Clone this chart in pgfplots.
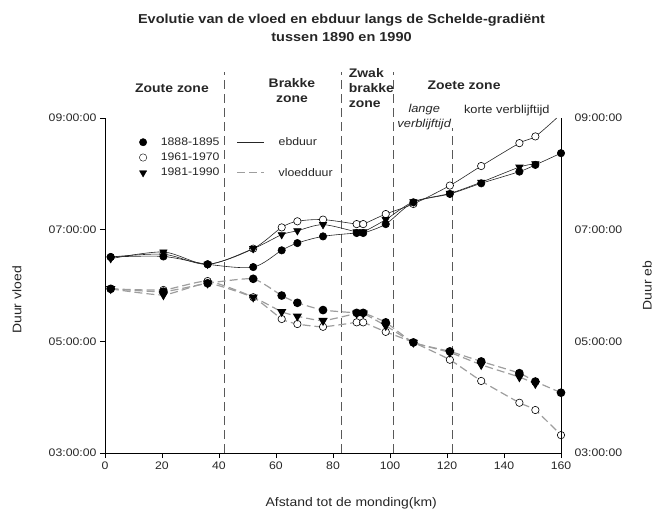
\documentclass[border=0pt]{standalone}
\usepackage{pgfplots}
\pgfplotsset{compat=1.18}
\usepackage{fontspec}
\setmainfont[FakeStretch=1.12]{Liberation Sans}

\definecolor{ebcol}{gray}{0.15}
\definecolor{vlcol}{gray}{0.62}
\definecolor{zonecol}{gray}{0.35}

\begin{document}
\begin{tikzpicture}
\useasboundingbox (-105bp,-58bp) rectangle (549bp,453bp);
\begin{axis}[
 at={(0,0)}, anchor=south west,
 scale only axis, width=456bp, height=335bp,
 xmin=0, xmax=160, ymin=3, ymax=9,
 axis x line*=bottom, axis y line*=left,
 clip=false,
 xtick={0,20,...,160},
 ytick={3,5,7,9},
 yticklabels={03:00:00,05:00:00,07:00:00,09:00:00},
 tick align=outside, major tick length=5bp,
 tick style={black, line width=0.6bp},
 axis line style={black, line width=0.6bp},
 ticklabel style={font=\fontsize{11}{13}\selectfont, text=black!85},
 /pgf/number format/assume math mode=true,
 xlabel={Afstand tot de monding(km)},
 ylabel={Duur vloed},
 label style={font=\fontsize{12.5}{14}\selectfont, text=black!85},
 xlabel style={at={(axis description cs:0.54,-0.149)}, anchor=center},
 ylabel style={at={(axis description cs:-0.193,0.457)}, anchor=center},
 legend style={at={(axis cs:12.0,8.69)}, anchor=north west, draw=none, fill=none,
   inner sep=0pt, nodes={inner xsep=6bp, inner ysep=2bp}, font=\fontsize{11}{13}\selectfont, text=black!85,
   /tikz/every odd column/.append style={column sep=8bp},
   /tikz/every even column/.append style={column sep=11bp}, row sep=2bp},
 legend columns=2, legend cell align=left,
]
% zone separators
\addplot[zonecol, line width=0.7bp, dash pattern=on 9bp off 5bp, forget plot] coordinates {(42,3) (42,9.82)};
\addplot[zonecol, line width=0.7bp, dash pattern=on 9bp off 5bp, forget plot] coordinates {(83,3) (83,9.82)};
\addplot[zonecol, line width=0.7bp, dash pattern=on 9bp off 5bp, forget plot] coordinates {(101,3) (101,9.82)};
\addplot[zonecol, line width=0.7bp, dash pattern=on 9bp off 5bp, forget plot] coordinates {(122,3) (122,8.82)};

% ---- vloedduur (dashed grey) ----
\addplot[vlcol, line width=1.2bp, dash pattern=on 8bp off 4bp, smooth, tension=0.3,
  mark=*, mark size=3.7bp, mark options={solid, draw=black, fill=white, line width=0.6bp}, forget plot]
 coordinates {(2,5.94) (20.5,5.92) (36,6.08) (52,5.79) (62,5.40) (67.5,5.31) (76.5,5.26)
  (88.3,5.34) (90.6,5.34) (98.5,5.17) (108.2,4.98) (121,4.67) (132,4.29) (145.4,3.90) (151,3.77) (160,3.32)};
\addplot[vlcol, line width=1.2bp, dash pattern=on 8bp off 4bp, smooth, tension=0.3,
  mark=triangle*, mark size=4.2bp, mark options={solid, draw=black, fill=black, rotate=180}, forget plot]
 coordinates {(2,5.94) (20.5,5.83) (36,6.04) (52,5.79) (62,5.53) (67.5,5.45) (76.5,5.37)
  (88.3,5.50) (90.6,5.50) (98.5,5.28) (108.2,4.98) (121,4.80) (132,4.58) (145.4,4.36) (151,4.24)};
\addplot[vlcol, line width=1.2bp, dash pattern=on 8bp off 4bp, smooth, tension=0.3,
  mark=*, mark size=3.7bp, mark options={solid, draw=black, fill=black}, forget plot]
 coordinates {(2,5.94) (20.5,5.89) (36,6.04) (52,6.12) (62,5.82) (67.5,5.69) (76.5,5.56)
  (88.3,5.51) (90.6,5.51) (98.5,5.34) (108.2,4.98) (121,4.82) (132,4.64) (145.4,4.43) (151,4.28) (160,4.08)};

% ---- ebduur (solid) ----
\addplot[ebcol, line width=0.6bp, smooth, tension=0.5,
  mark=*, mark size=3.7bp, mark indices={1,...,15}, mark options={draw=black, fill=white, line width=0.6bp}, forget plot]
 coordinates {(2,6.51) (20.5,6.56) (36,6.38) (52,6.66) (62,7.04) (67.5,7.15) (76.5,7.18)
  (88.3,7.10) (90.6,7.10) (98.5,7.28) (108.2,7.46) (121,7.79) (132,8.14) (145.4,8.55) (151,8.67) (158.5,9.0)};
\addplot[ebcol, line width=0.6bp, smooth, tension=0.5,
  mark=triangle*, mark size=4.2bp, mark options={draw=black, fill=black, rotate=180}, forget plot]
 coordinates {(2,6.48) (20.5,6.60) (36,6.38) (52,6.66) (62,6.91) (67.5,6.98) (76.5,7.09)
  (88.3,6.96) (90.6,6.96) (98.5,7.18) (108.2,7.50) (121,7.65) (132,7.85) (145.4,8.12) (151,8.18)};
\addplot[ebcol, line width=0.6bp, smooth, tension=0.5,
  mark=*, mark size=3.7bp, mark options={draw=black, fill=black}, forget plot]
 coordinates {(2,6.51) (20.5,6.52) (36,6.38) (52,6.33) (62,6.63) (67.5,6.76) (76.5,6.88)
  (88.3,6.94) (90.6,6.94) (98.5,7.10) (108.2,7.49) (121,7.64) (132,7.83) (145.4,8.04) (151,8.16) (160,8.37)};

% ---- legend ----
\addlegendimage{only marks, mark=*, mark size=3.7bp, draw=black, fill=black}
\addlegendentry{1888-1895}
\addlegendimage{legend image code/.code={\draw[ebcol, line width=0.7bp] (0bp,0bp) -- (27bp,0bp);}}
\addlegendentry{ebduur}
\addlegendimage{only marks, mark=*, mark size=3.7bp, draw=black, fill=white}
\addlegendentry{1961-1970}
\addlegendimage{empty legend}
\addlegendentry{}
\addlegendimage{only marks, mark=triangle*, mark size=4.2bp, draw=black, fill=black, mark options={rotate=180}}
\addlegendentry{1981-1990}
\addlegendimage{legend image code/.code={\draw[vlcol, line width=1.2bp, dash pattern=on 8bp off 4bp] (0bp,0bp) -- (27bp,0bp);}}
\addlegendentry{vloedduur}

% ---- texts ----
\node[font=\bfseries\fontsize{13}{18}\selectfont, align=center, text=black!85] at (axis cs:83,10.62)
  {Evolutie van de vloed en ebduur langs de Schelde-gradiënt\\tussen 1890 en 1990};
\node[font=\bfseries\fontsize{12.5}{15}\selectfont, text=black!85] at (axis cs:23.5,9.54) {Zoute zone};
\node[font=\bfseries\fontsize{12.5}{15}\selectfont, align=center, text=black!85] at (axis cs:65.6,9.50) {Brakke\\zone};
\node[font=\bfseries\fontsize{12.5}{15}\selectfont, align=left, anchor=west, inner sep=0pt, text=black!85] at (axis cs:85.5,9.54) {Zwak\\brakke\\zone};
\node[font=\bfseries\fontsize{12.5}{15}\selectfont, text=black!85] at (axis cs:126,9.59) {Zoete zone};
\node[font=\itshape\fontsize{11.5}{15}\selectfont, align=center, text=black!85] at (axis cs:112,9.01) {lange\\verblijftijd};
\node[font=\fontsize{11.5}{14}\selectfont, text=black!85] at (axis cs:141,9.14) {korte verblijftijd};
\end{axis}

\begin{axis}[
 at={(0,0)}, anchor=south west,
 scale only axis, width=456bp, height=335bp,
 xmin=0, xmax=160, ymin=3, ymax=9,
 axis x line=none, axis y line*=right,
 ytick={3,5,7,9},
 yticklabels={03:00:00,05:00:00,07:00:00,09:00:00},
 major tick length=0pt,
 axis line style={black, line width=0.6bp},
 yticklabel style={font=\fontsize{11}{13}\selectfont, text=black!85, anchor=west, xshift=10bp},
 ylabel={Duur eb},
 ylabel style={font=\fontsize{12.5}{14}\selectfont, text=black!85, at={(axis description cs:1.189,0.5)}, anchor=center},
]
\end{axis}
\end{tikzpicture}
\end{document}
